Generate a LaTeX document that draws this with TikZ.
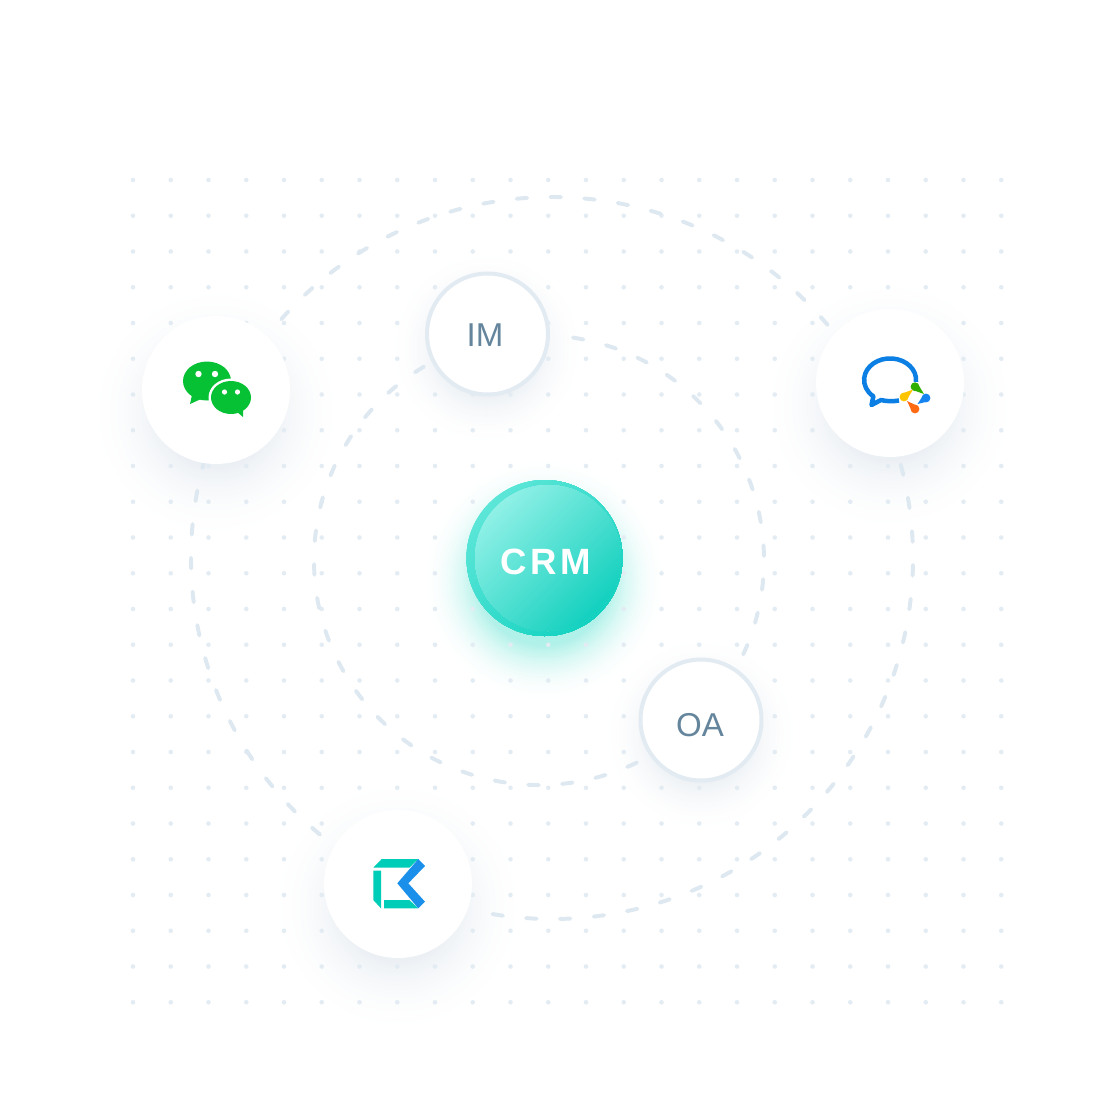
\documentclass[tikz,border=0pt]{standalone}
\usepackage{fontspec}
\usetikzlibrary{calc}
\setmainfont{Liberation Sans}
\newfontfamily\crmfont[LetterSpace=10]{Liberation Sans}
\definecolor{dotcol}{HTML}{E4ECF3}
\definecolor{dashcol}{HTML}{DDE8F1}
\definecolor{ringcol}{HTML}{E3EBF2}
\definecolor{labelcol}{HTML}{64859C}
\definecolor{shadowcol}{HTML}{E9EEF3}
\definecolor{glowcol}{HTML}{B0F1E9}
\definecolor{wechatcol}{HTML}{07C134}
\definecolor{bluecol}{HTML}{0B7FE4}
\definecolor{tealcol}{HTML}{00CDB8}
\definecolor{kkblue}{HTML}{1A90EA}
\definecolor{petalgreen}{HTML}{2FB000}
\definecolor{petalblue}{HTML}{1684F0}
\definecolor{petalorange}{HTML}{FF6A13}
\definecolor{petalyellow}{HTML}{FFC400}
\definecolor{crmouterlight}{HTML}{5CE6D8}
\definecolor{crmouterdark}{HTML}{12D2C0}
\definecolor{crminnerlight}{HTML}{8FF0E6}
\definecolor{crminnerdark}{HTML}{12D0BE}
\tikzset{
  orbit/.style={dashcol,line width=2.8pt,line cap=round,dash pattern=on 7.5pt off 16.57pt},
  appnode/.style={circle,fill=white,minimum size=148*0.711pt,inner sep=0pt},
  smallnode/.style={circle,fill=white,draw=ringcol,line width=4*0.711pt,minimum size=121*0.711pt,inner sep=0pt},
  smalllabel/.style={text=labelcol,font=\fontsize{23.5pt}{25pt}\selectfont},
}
% x, y, outer radius, inner radius, colour
\newcommand{\softshadow}[5]{%
  \pgfmathtruncatemacro\nextr{#3-2}
  \foreach \r in {#3,\nextr,...,#4} {
    \pgfmathsetmacro\pct{100*((#3-\r)/(#3-#4))^2}
    \fill[#5!\pct!white] (#1,#2) circle (\r);
  }
}
% x, y, radius, light colour, dark colour
\newcommand{\crmdisc}[5]{%
  \begin{scope}
    \clip (#1,#2) circle (#3);
    \fill[#4] (#1-#3,#2-#3) rectangle (#1+#3,#2+#3);
    \foreach \k in {0,...,48} {
      \pgfmathsetmacro\pct{100*\k/48}
      \pgfmathsetmacro\stripe{-#3+2*#3*\k/48}
      \fill[#5!\pct!#4,shift={(#1,#2)},rotate=-45] (\stripe,-2*#3) rectangle (2*#3,2*#3);
    }
  \end{scope}
}
\newcommand{\petal}[5]{%
  \fill[#5] (#1,#2) circle (4.4);
  \fill[#5] (#3,#4) -- ($(#1,#2)!2.9pt!90:(#3,#4)$) -- ($(#1,#2)!2.9pt!-90:(#3,#4)$) -- cycle;
}
\begin{document}
\begin{tikzpicture}[x=0.025cm,y=-0.025cm]
  \useasboundingbox (0,0) rectangle (1120,1120);
  \fill[white] (0,0) rectangle (1120,1120);

  \softshadow{216}{412}{130}{50}{shadowcol}
  \softshadow{890}{405}{130}{50}{shadowcol}
  \softshadow{398}{906}{130}{50}{shadowcol}
  \softshadow{487}{348}{100}{44}{shadowcol}
  \softshadow{701}{734}{100}{44}{shadowcol}
  \softshadow{544}{580}{122}{66}{glowcol}

  \foreach \i in {0,...,23}
    \foreach \j in {0,...,23}
      \fill[dotcol] ({133+37.75*\i},{180+35.75*\j}) circle (2.3);

  \draw[orbit] (552,558) ++(221.4:361) arc[start angle=221.4,end angle=319.8,radius=361];
  \draw[orbit] (552,558) ++(345:361) arc[start angle=345,end angle=460,radius=361];
  \draw[orbit] (552,558) ++(130:361) arc[start angle=130,end angle=195.2,radius=361];
  \draw[orbit] (539,560) ++(278.7:225) arc[start angle=278.7,end angle=384.8,radius=225];
  \draw[orbit] (539,560) ++(64.2:225) arc[start angle=64.2,end angle=239.3,radius=225];

  \node[appnode] (wechat) at (216,390) {};
  \node[appnode] (wecom) at (890,383) {};
  \node[appnode] (kk) at (398,884) {};
  \node[smallnode] (im) at (487.5,334) {};
  \node[smallnode] (oa) at (701,720) {};
  \node[smalllabel] (imlabel) at (485,335) {IM};
  \node[smalllabel] (oalabel) at (700,725) {OA};

  \crmdisc{544.5}{558}{78}{crmouterlight}{crmouterdark}
  \crmdisc{548}{558}{73}{crminnerlight}{crminnerdark}
  \node[text=white,font=\crmfont\fontsize{26pt}{27pt}\selectfont\bfseries] (crm) at (546,562) {CRM};

  % wechat
  \fill[wechatcol] (207,381) ellipse (24 and 19.5);
  \fill[wechatcol] (192,395) -- (190,404) -- (201,399) -- cycle;
  \fill[white] (231,397.5) ellipse (22.5 and 19);
  \fill[wechatcol] (231,397.5) ellipse (20 and 16.5);
  \fill[wechatcol] (236,411) -- (243,417) -- (243,408) -- cycle;
  \fill[white] (198.5,374) circle (3.2) (215,374) circle (3.2);
  \fill[white] (224.5,392) circle (2.6) (237.5,392) circle (2.6);

  % wecom
  \draw[bluecol,line width=3.2pt,line join=round] (916,381.8) arc[start angle=5,end angle=-230,x radius=26,y radius=21.5]
    -- (871.5,405) -- (881,400) .. controls (887,401.5) and (893,401.5) .. (899,400.5);
  \petal{915}{386.7}{924}{394}{petalgreen}
  \petal{926}{398}{917.5}{404}{petalblue}
  \petal{915}{409}{907}{401}{petalorange}
  \petal{904}{397}{913}{389.5}{petalyellow}

  % kk
  \fill[tealcol] (373.3,867.7) -- (381.7,859) -- (418.3,859) -- (409.3,867.7) -- cycle;
  \fill[tealcol] (373.3,870.7) -- (381,870.7) -- (381,908.3) -- (373.3,900) -- cycle;
  \fill[tealcol] (384,900) -- (409.3,900) -- (418.3,908.3) -- (384,908.3) -- cycle;
  \fill[kkblue] (418.3,859) -- (425,866) -- (408.3,883.3) -- (425,901.7) -- (418.3,908.3) -- (397.3,883.3) -- cycle;
\end{tikzpicture}
\end{document}
